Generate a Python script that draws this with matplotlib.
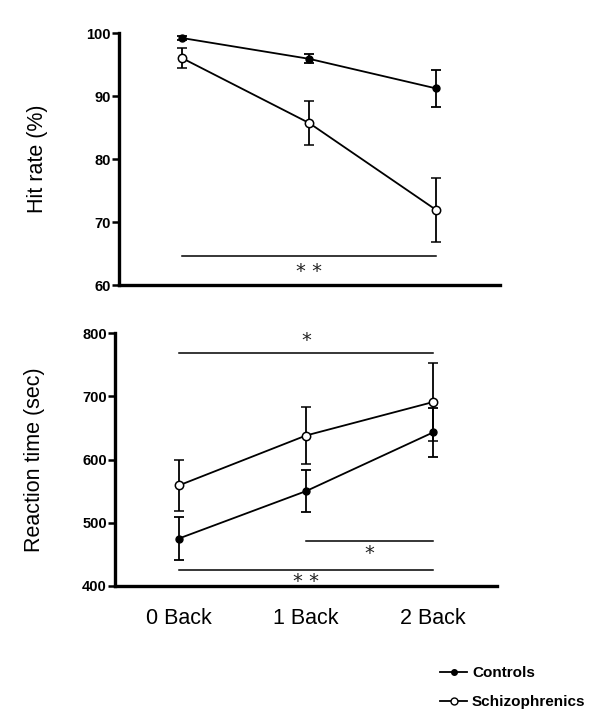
import matplotlib
matplotlib.use("Agg")
import matplotlib.pyplot as plt
from matplotlib.lines import Line2D

plt.rcParams['font.family'] = ['Liberation Sans', 'DejaVu Sans']

# conditions
conditions = ['0 Back', '1 Back', '2 Back']
xpos = [0, 1, 2]

# hit rate (%)
hit_controls = [99.2, 95.9, 91.2]
hit_controls_err = [0.3, 0.7, 2.9]
hit_schizo = [96.0, 85.7, 71.9]
hit_schizo_err = [1.6, 3.5, 5.1]

# reaction time (sec)
rt_controls = [475, 550, 643]
rt_controls_err = [34, 33, 39]
rt_schizo = [559, 638, 691]
rt_schizo_err = [41, 45, 62]

# significance bars: (x start, x end, y line, label, y label)
hit_sig = [(0, 2, 64.6, '* *', 62.3)]
rt_sig = [(0, 2, 769, '*', 790),
          (1, 2, 471, '*', 453),
          (0, 2, 425, '* *', 410)]

fig = plt.figure(figsize=(6.0, 7.21), dpi=100)
ax1 = fig.add_axes([0.198, 0.6047, 0.635, 0.3495])
ax2 = fig.add_axes([0.192, 0.1873, 0.636, 0.3507])


def style(ax, ylim, yticks, ylabel):
    ax.set_xlim(-0.5, 2.5)
    ax.set_ylim(*ylim)
    ax.set_yticks(yticks)
    for s in ['top', 'right']:
        ax.spines[s].set_visible(False)
    for s in ['left', 'bottom']:
        ax.spines[s].set_linewidth(2.4)
    ax.tick_params(axis='y', direction='out', length=5, width=1.8,
                   labelsize=10.5, pad=1)
    for lab in ax.get_yticklabels():
        lab.set_fontweight('bold')
    ax.set_ylabel(ylabel, fontsize=15.5, labelpad=27)


def draw(ax, ctrl, ctrl_err, sch, sch_err):
    ax.errorbar(xpos, ctrl, yerr=ctrl_err, color='black', lw=1.3,
                marker='o', ms=5, mfc='black', capsize=3.5, capthick=1.3,
                elinewidth=1.3)
    ax.errorbar(xpos, sch, yerr=sch_err, color='black', lw=1.3,
                marker='o', ms=6, mfc='white', mew=1.1, capsize=3.5,
                capthick=1.3, elinewidth=1.3)


def sig(ax, bars):
    for x0, x1, y, lab, ylab in bars:
        ax.plot([x0, x1], [y, y], color='black', lw=1.1)
        # asterisks sit high in the glyph box, shift baseline down
        ax.annotate(lab, ((x0 + x1) / 2, ylab), xytext=(0, -5),
                    textcoords='offset points', ha='center', va='baseline',
                    fontsize=14, color='#222222', family='DejaVu Sans')


draw(ax1, hit_controls, hit_controls_err, hit_schizo, hit_schizo_err)
sig(ax1, hit_sig)
style(ax1, (60, 100), [60, 70, 80, 90, 100], 'Hit rate (%)')
ax1.set_xticks([])

draw(ax2, rt_controls, rt_controls_err, rt_schizo, rt_schizo_err)
sig(ax2, rt_sig)
style(ax2, (400, 800), [400, 500, 600, 700, 800], 'Reaction time (sec)')
ax2.set_xticks(xpos)
ax2.set_xticklabels(conditions, fontsize=15.5)
ax2.tick_params(axis='x', length=0, pad=16)

handles = [
    Line2D([], [], color='black', lw=1.3, marker='o', ms=4, mfc='black'),
    Line2D([], [], color='black', lw=1.3, marker='o', ms=5, mfc='white'),
]
leg = fig.legend(handles, ['Controls', 'Schizophrenics'],
                 loc='upper left', bbox_to_anchor=(0.733, 0.076),
                 frameon=False, borderpad=0, borderaxespad=0,
                 handlelength=1.8, handletextpad=0.3, labelspacing=1.0,
                 prop={'size': 11, 'weight': 'bold'})

fig.savefig('out.png', dpi=100)
